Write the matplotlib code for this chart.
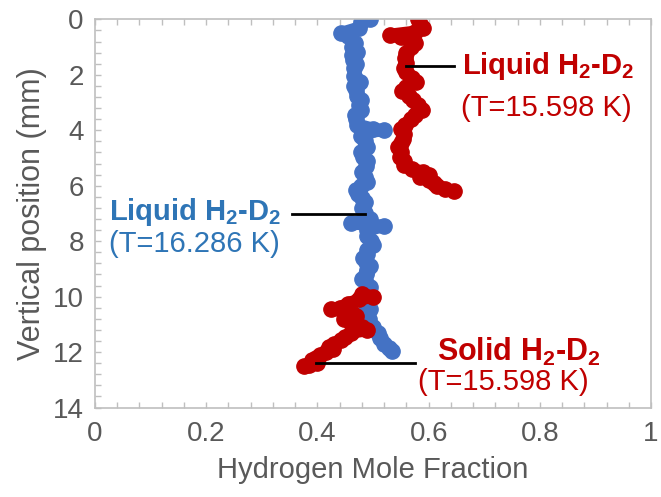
import matplotlib
matplotlib.use("Agg")
import matplotlib.pyplot as plt
from matplotlib.ticker import MultipleLocator

plt.rcParams["font.family"] = ["Liberation Sans", "DejaVu Sans"]
plt.rcParams["mathtext.fontset"] = "custom"
plt.rcParams["mathtext.rm"] = "Liberation Sans"
plt.rcParams["mathtext.bf"] = "Liberation Sans:bold"

# liquid H2-D2 at 16.286 K (blue)
blue_pos = [0.0, 0.1, 0.3, 0.5, 0.6, 0.85, 1.0, 1.17, 1.3, 1.46, 1.6, 1.75, 2.06, 2.27,
            2.4, 2.56, 2.75, 2.9, 3.1, 3.26, 3.45, 3.6, 3.8, 3.95, 4.0, 4.05, 4.2, 4.4,
            4.6, 4.8, 4.95, 5.1, 5.3, 5.5, 5.7, 5.85, 6.0, 6.15, 6.3, 6.45, 6.6, 6.8,
            7.0, 7.2, 7.35, 7.45, 7.6, 7.8, 8.0, 8.15, 8.3, 8.45, 8.6, 8.75, 8.9, 9.05,
            9.2, 9.35, 9.5, 9.65, 9.8, 9.95, 10.1, 10.3, 10.45, 10.6, 10.8, 10.95, 11.1,
            11.3, 11.5, 11.7, 11.85, 11.95]
blue_frac = [0.495, 0.478, 0.475, 0.442, 0.455, 0.467, 0.462, 0.472, 0.462, 0.464, 0.47,
             0.466, 0.466, 0.476, 0.465, 0.47, 0.472, 0.479, 0.474, 0.479, 0.468, 0.47,
             0.472, 0.5, 0.52, 0.49, 0.479, 0.485, 0.49, 0.478, 0.482, 0.49, 0.488, 0.48,
             0.485, 0.49, 0.479, 0.47, 0.473, 0.48, 0.485, 0.48, 0.486, 0.495, 0.46, 0.52,
             0.49, 0.49, 0.496, 0.5, 0.49, 0.49, 0.482, 0.488, 0.495, 0.49, 0.488, 0.48,
             0.487, 0.495, 0.49, 0.482, 0.49, 0.488, 0.495, 0.49, 0.493, 0.49, 0.5, 0.509,
             0.512, 0.52, 0.528, 0.535]

# liquid H2-D2 at 15.598 K (red, upper part)
red_liq_pos = [0.0, 0.15, 0.3, 0.45, 0.56, 0.65, 0.85, 1.0, 1.2, 1.4, 1.56, 1.75, 1.9,
               2.1, 2.27, 2.45, 2.6, 2.75, 2.9, 3.1, 3.26, 3.45, 3.6, 3.8, 3.97, 4.15,
               4.3, 4.45, 4.6, 4.8, 4.95, 5.1, 5.25, 5.4, 5.5, 5.6, 5.7, 5.8, 5.9, 6.0,
               6.1, 6.2]
red_liq_frac = [0.58, 0.585, 0.59, 0.575, 0.53, 0.55, 0.575, 0.568, 0.56, 0.558, 0.56,
                0.555, 0.56, 0.57, 0.578, 0.56, 0.552, 0.565, 0.572, 0.58, 0.588, 0.575,
                0.568, 0.558, 0.55, 0.556, 0.554, 0.55, 0.545, 0.55, 0.548, 0.555, 0.555,
                0.57, 0.59, 0.6, 0.585, 0.6, 0.61, 0.615, 0.63, 0.645]

# solid H2-D2 at 15.598 K (red, lower part)
red_sol_pos = [9.9, 10.0, 10.1, 10.25, 10.4, 10.45, 10.6, 10.7, 10.8, 10.95, 11.1, 11.2,
               11.3, 11.45, 11.55, 11.7, 11.8, 11.9, 12.0, 12.1, 12.2, 12.3, 12.4, 12.45,
               12.5]
red_sol_frac = [0.48, 0.5, 0.475, 0.455, 0.44, 0.425, 0.462, 0.47, 0.448, 0.46, 0.48,
                0.49, 0.46, 0.45, 0.443, 0.43, 0.42, 0.428, 0.415, 0.405, 0.398, 0.39,
                0.4, 0.385, 0.375]

blue = "#4472C4"
red = "#C00000"
label_blue = "#2E75B6"
grey = "#595959"

fig = plt.figure(figsize=(6.61, 4.97), dpi=100)
ax = fig.add_axes([0.1437, 0.180, 0.8413, 0.781])

style = dict(marker="o", ms=11, lw=9, solid_capstyle="round", solid_joinstyle="round")
ax.plot(blue_frac, blue_pos, color=blue, mec=blue, **style)
ax.plot(red_liq_frac, red_liq_pos, color=red, mec=red, **style)
ax.plot(red_sol_frac, red_sol_pos, color=red, mec=red, **style)

# pointer lines
ax.plot([0.559, 0.646], [1.68, 1.68], color="black", lw=2)
ax.plot([0.354, 0.486], [7.02, 7.02], color="black", lw=2)
ax.plot([0.398, 0.575], [12.38, 12.38], color="black", lw=2)

sub = r"H$_\mathbf{2}$-D$_\mathbf{2}$"
fs = 21
ax.text(0.815, 1.68, "Liquid " + sub, color=red, fontsize=fs, fontweight="bold",
        ha="center", va="center")
ax.text(0.811, 3.19, "(T=15.598 K)", color=red, fontsize=fs, ha="center", va="center")
ax.text(0.18, 6.95, "Liquid " + sub, color=label_blue, fontsize=fs, fontweight="bold",
        ha="center", va="center")
ax.text(0.179, 8.1, "(T=16.286 K)", color=label_blue, fontsize=fs, ha="center", va="center")
ax.text(0.762, 12.0, "Solid " + sub, color=red, fontsize=22, fontweight="bold",
        ha="center", va="center")
ax.text(0.735, 13.08, "(T=15.598 K)", color=red, fontsize=fs, ha="center", va="center")

ax.set_xlim(0, 1)
ax.set_ylim(14, 0)
ax.xaxis.set_major_locator(MultipleLocator(0.2))
ax.xaxis.set_minor_locator(MultipleLocator(0.04))
ax.yaxis.set_major_locator(MultipleLocator(2))
ax.yaxis.set_minor_locator(MultipleLocator(0.4))
ax.set_xticks([0, 0.2, 0.4, 0.6, 0.8, 1.0], ["0", "0.2", "0.4", "0.6", "0.8", "1"])

for side in ax.spines.values():
    side.set_color("#BFBFBF")
    side.set_linewidth(1.2)
ax.tick_params(which="both", direction="in", color="#BFBFBF", width=1, length=4,
               top=True, right=False, labelsize=20, labelcolor=grey)
ax.tick_params(axis="x", which="major", pad=10)
ax.tick_params(axis="y", which="major", pad=8)

ax.set_xlabel("Hydrogen Mole Fraction", fontsize=21, color=grey, labelpad=6)
ax.set_ylabel("Vertical position (mm)", fontsize=22, color=grey, labelpad=4)

fig.savefig("out.png", dpi=100)
